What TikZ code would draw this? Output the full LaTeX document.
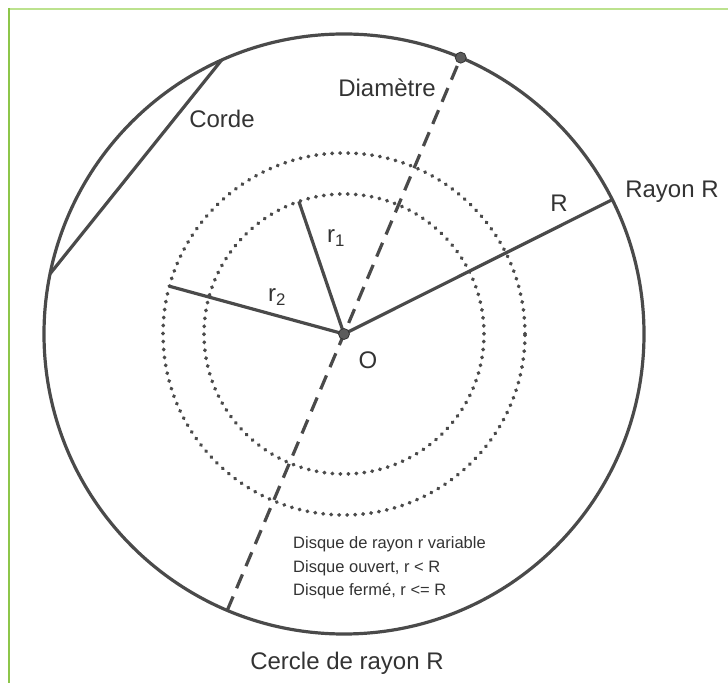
\documentclass[tikz,border=0pt]{standalone}
\usepackage{fontspec}
\setmainfont{Liberation Sans}
\usepackage{tikz}
\usetikzlibrary{calc}
\definecolor{LineGray}{HTML}{4A4A4A}
\definecolor{TextGray}{HTML}{333333}
\definecolor{FrameTop}{HTML}{BCE28E}
\definecolor{FrameLeft}{HTML}{8DC64A}
\tikzset{
  bigcircle/.style={draw=LineGray, line width=3.2pt},
  dotcircle/.style={draw=LineGray, line width=3.8pt, line cap=round, dash pattern=on 0.4pt off 7.6pt},
  segment/.style={draw=LineGray, line width=3.2pt},
  diamline/.style={draw=LineGray, line width=3.2pt, dash pattern=on 15pt off 9pt},
  pointdot/.style={circle, fill=LineGray!90, draw=black!80, line width=0.8pt, inner sep=0pt, minimum size=11pt},
  biglabel/.style={text=TextGray, font=\fontsize{24}{28}\selectfont, inner sep=0pt},
  smalllabel/.style={text=TextGray, font=\fontsize{16.5}{23.5}\selectfont, inner sep=0pt, align=left}
}
\begin{document}
\begin{tikzpicture}[x=1pt, y=1pt]
  \useasboundingbox (0,0) rectangle (728,683);
  \fill[white] (0,0) rectangle (728,683);
  % frame
  \draw[FrameTop, line width=2.5pt] (8,674) -- (728,674);
  \draw[FrameLeft, line width=2.5pt] (9,675) -- (9,0);

  \coordinate (O) at (344,349);
  \draw[bigcircle] (O) circle[radius=300];
  \draw[dotcircle] (O) circle[radius=140];
  \draw[dotcircle] (O) circle[radius=181];

  % chord, radii, diameter
  \coordinate (c1) at ($(O)+(114.1:300)$);
  \coordinate (c2) at ($(O)+(168.4:300)$);
  \coordinate (rR) at ($(O)+(26.6:300)$);
  \coordinate (r1end) at ($(O)+(108.8:140)$);
  \coordinate (r2end) at ($(O)+(164.7:181)$);
  \coordinate (d1) at ($(O)+(67.1:300)$);
  \coordinate (d2) at ($(O)+(247.1:300)$);
  \draw[segment] (c1) -- (c2);
  \draw[segment] (O) -- (rR);
  \draw[segment] (O) -- (r1end);
  \draw[segment] (O) -- (r2end);
  \draw[diamline] (d2) -- (d1);
  \node[pointdot] (Odot) at (O) {};
  \node[pointdot] (Ddot) at (d1) {};

  % labels
  \node[biglabel] (diam) at (387,595) {Diamètre};
  \node[biglabel] (corde) at (222,564) {Corde};
  \node[biglabel] (lr1) at (336,445) {r\textsubscript{1}};
  \node[biglabel] (lr2) at (277,386) {r\textsubscript{2}};
  \node[biglabel] (lR) at (559,480) {R};
  \node[biglabel] (rayon) at (672,491) {Rayon R};
  \node[biglabel] (lO) at (368,323) {O};
  \node[biglabel] (cercle) at (347,20) {Cercle de rayon R};
  \node[smalllabel, anchor=west] (disques) at (293,115) {Disque de rayon r variable\\Disque ouvert, r < R\\Disque fermé, r <= R};
\end{tikzpicture}
\end{document}
